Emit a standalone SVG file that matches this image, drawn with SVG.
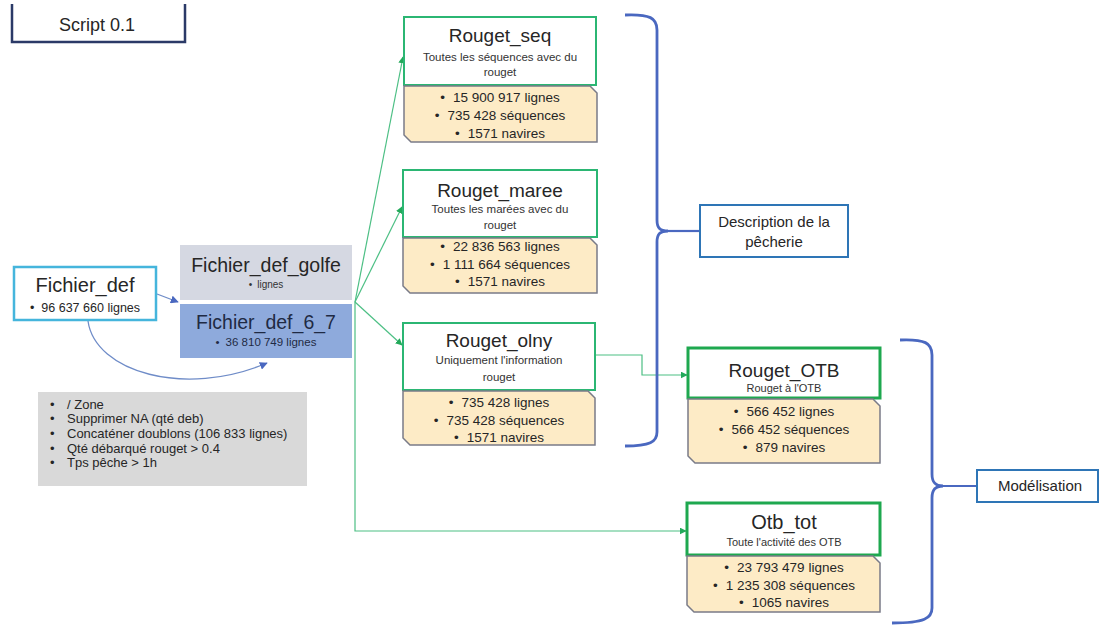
<svg xmlns="http://www.w3.org/2000/svg" width="1106" height="626" viewBox="0 0 1106 626">
  <defs>
    <style>
      text { font-family: "Liberation Sans", Arial, sans-serif; fill: #262626; }
      .title { font-size: 19px; text-anchor: middle; }
      .sub { font-size: 11.5px; text-anchor: middle; fill: #333; }
      .stat { font-size: 13.5px; text-anchor: middle; }
      .note { font-size: 13px; fill: #3a3a3a; }
      .lbl { font-size: 15px; text-anchor: middle; }
      .card { fill: #ffffff; stroke: #2bb673; stroke-width: 2; }
      .card-strong { fill: #ffffff; stroke: #1ea84f; stroke-width: 3; }
      .stats { fill: #fdebc6; stroke: #7a7b88; stroke-width: 1.5; }
      .flow { fill: none; stroke: #4cbf84; stroke-width: 1.2; }
      .link { fill: none; stroke: #6f8cc8; stroke-width: 1.3; }
      .brace { fill: none; stroke: #4a68c0; stroke-width: 2.8; }
      .group { fill: #ffffff; stroke: #2e75b6; stroke-width: 2; }
    </style>
    <marker id="arrow-green" viewBox="0 0 10 10" refX="9" refY="5" markerWidth="7" markerHeight="7" markerUnits="userSpaceOnUse" orient="auto">
      <path d="M0,0 L10,5 L0,10 z" fill="#23a95a"/>
    </marker>
    <marker id="arrow-blue" viewBox="0 0 10 10" refX="9" refY="5" markerWidth="8" markerHeight="8" markerUnits="userSpaceOnUse" orient="auto">
      <path d="M0,0 L10,5 L0,10 z" fill="#4a68c0"/>
    </marker>
  </defs>

  <rect width="1106" height="626" fill="#ffffff"/>

  <!-- header tab -->
  <g id="script-tab">
    <path d="M12,4 V42 H185 V4" fill="none" stroke="#2b3a67" stroke-width="2.5"/>
    <text x="97" y="31" style="font-size:18px;text-anchor:middle">Script 0.1</text>
  </g>

  <!-- connectors -->
  <g id="connectors">
    <path class="link" d="M157,294 L178,302" marker-end="url(#arrow-blue)"/>
    <path class="link" d="M88,321 C95,372 185,398 267,363" marker-end="url(#arrow-blue)"/>
    <path class="flow" d="M355,302 L403,57" marker-end="url(#arrow-green)"/>
    <path class="flow" d="M355,302 L402,207" marker-end="url(#arrow-green)"/>
    <path class="flow" d="M355,302 L402,345" marker-end="url(#arrow-green)"/>
    <path class="flow" d="M355,302 V531 H686" marker-end="url(#arrow-green)"/>
    <path class="flow" d="M596,355 H642 V375 H687" marker-end="url(#arrow-green)"/>
    <!-- grouping braces -->
    <path class="brace" d="M625,15 C650,14 657,18 657,30 V220 C657,228 660,231 668,231 C660,231 657,234 657,242 V432 C657,442 650,446 625,446"/>
    <path class="brace" d="M668,231 H700" style="stroke-width:2.2"/>
    <path class="brace" d="M900,340 C925,339 932,343 932,355 V474 C932,482 935,486 943,486 C935,486 932,490 932,498 V608 C932,618 925,623 892,623"/>
    <path class="brace" d="M943,486 H977" style="stroke-width:2.2"/>
  </g>

  <!-- source file -->
  <g id="fichier-def">
    <rect x="14" y="267" width="142" height="53" fill="#ffffff" stroke="#45b5dc" stroke-width="2.5"/>
    <text x="85" y="292" class="title" style="font-size:20px">Fichier_def</text>
    <text x="85" y="312" class="stat" style="font-size:12.5px"><tspan>•</tspan><tspan dx="7">96 637 660 lignes</tspan></text>
  </g>

  <g id="fichier-def-golfe">
    <rect x="180" y="245" width="172" height="55" fill="#d5d8e2"/>
    <text x="266" y="272" class="title" style="font-size:19.5px">Fichier_def_golfe</text>
    <text x="266" y="288" class="sub" style="font-size:10px"><tspan>•</tspan><tspan dx="5">lignes</tspan></text>
  </g>

  <g id="fichier-def-6-7">
    <rect x="180" y="304" width="172" height="54" fill="#8eaadc"/>
    <text x="266" y="329" class="title" style="font-size:19.5px;fill:#1f2a44">Fichier_def_6_7</text>
    <text x="266" y="346" class="sub" style="font-size:11.5px;fill:#1f2a44"><tspan>•</tspan><tspan dx="6">36 810 749 lignes</tspan></text>
  </g>

  <!-- filtering steps -->
  <g id="filtres">
    <rect x="38" y="392" width="269" height="94" fill="#d9d9d9"/>
    <g class="note">
      <text x="50" y="409">•</text><text x="67" y="409">/ Zone</text>
      <text x="50" y="423">•</text><text x="67" y="423">Supprimer NA (qté deb)</text>
      <text x="50" y="438">•</text><text x="67" y="438">Concaténer doublons (106 833 lignes)</text>
      <text x="50" y="453">•</text><text x="67" y="453">Qté débarqué rouget &gt; 0.4</text>
      <text x="50" y="467">•</text><text x="67" y="467">Tps pêche &gt; 1h</text>
    </g>
  </g>

  <g id="rouget-seq">
    <rect class="card" x="404" y="17" width="192" height="68"/>
    <polygon class="stats" points="404,86 590,86 597,93 597,142 411,142 404,135"/>
    <text x="500" y="42" class="title">Rouget_seq</text>
    <text x="500" y="61" class="sub">Toutes les séquences avec du</text>
    <text x="500" y="76" class="sub">rouget</text>
    <text x="500" y="102" class="stat"><tspan>•</tspan><tspan dx="8">15 900 917 lignes</tspan></text>
    <text x="500" y="120" class="stat"><tspan>•</tspan><tspan dx="8">735 428 séquences</tspan></text>
    <text x="500" y="138" class="stat"><tspan>•</tspan><tspan dx="8">1571 navires</tspan></text>
  </g>

  <g id="rouget-maree">
    <rect class="card" x="403" y="170" width="194" height="67"/>
    <polygon class="stats" points="403,238 590,238 597,245 597,293 410,293 403,286"/>
    <text x="500" y="197" class="title">Rouget_maree</text>
    <text x="500" y="213" class="sub">Toutes les marées avec du</text>
    <text x="500" y="229" class="sub">rouget</text>
    <text x="500" y="251" class="stat"><tspan>•</tspan><tspan dx="8">22 836 563 lignes</tspan></text>
    <text x="500" y="269" class="stat"><tspan>•</tspan><tspan dx="8">1 111 664 séquences</tspan></text>
    <text x="500" y="286" class="stat"><tspan>•</tspan><tspan dx="8">1571 navires</tspan></text>
  </g>

  <g id="rouget-olny">
    <rect class="card" x="403" y="323" width="192" height="67"/>
    <polygon class="stats" points="403,391 588,391 595,398 595,445 410,445 403,438"/>
    <text x="499" y="347" class="title">Rouget_olny</text>
    <text x="499" y="364" class="sub">Uniquement l'information</text>
    <text x="499" y="381" class="sub">rouget</text>
    <text x="499" y="407" class="stat"><tspan>•</tspan><tspan dx="8">735 428 lignes</tspan></text>
    <text x="499" y="425" class="stat"><tspan>•</tspan><tspan dx="8">735 428 séquences</tspan></text>
    <text x="499" y="442" class="stat"><tspan>•</tspan><tspan dx="8">1571 navires</tspan></text>
  </g>

  <g id="description">
    <rect class="group" x="700" y="205" width="148" height="52"/>
    <text x="774" y="227" class="lbl">Description de la</text>
    <text x="774" y="247" class="lbl">pêcherie</text>
  </g>

  <g id="rouget-otb">
    <rect class="card-strong" x="688" y="348" width="192" height="50"/>
    <polygon class="stats" points="688,399 873,399 880,406 880,463 695,463 688,456"/>
    <text x="784" y="377" class="title">Rouget_OTB</text>
    <text x="784" y="392" class="sub" style="font-size:11px">Rouget à l'OTB</text>
    <text x="784" y="416" class="stat"><tspan>•</tspan><tspan dx="8">566 452 lignes</tspan></text>
    <text x="784" y="434" class="stat"><tspan>•</tspan><tspan dx="8">566 452 séquences</tspan></text>
    <text x="784" y="452" class="stat"><tspan>•</tspan><tspan dx="8">879 navires</tspan></text>
  </g>

  <g id="otb-tot">
    <rect class="card-strong" x="687" y="503" width="193" height="52"/>
    <polygon class="stats" points="687,556 873,556 880,563 880,612 694,612 687,605"/>
    <text x="784" y="529" class="title" style="font-size:20px">Otb_tot</text>
    <text x="784" y="546" class="sub" style="font-size:11px">Toute l'activité des OTB</text>
    <text x="784" y="572" class="stat"><tspan>•</tspan><tspan dx="8">23 793 479 lignes</tspan></text>
    <text x="784" y="590" class="stat"><tspan>•</tspan><tspan dx="8">1 235 308 séquences</tspan></text>
    <text x="784" y="607" class="stat"><tspan>•</tspan><tspan dx="8">1065 navires</tspan></text>
  </g>

  <g id="modelisation">
    <rect class="group" x="977" y="470" width="121" height="32"/>
    <text x="1040" y="491" class="lbl">Modélisation</text>
  </g>
</svg>
